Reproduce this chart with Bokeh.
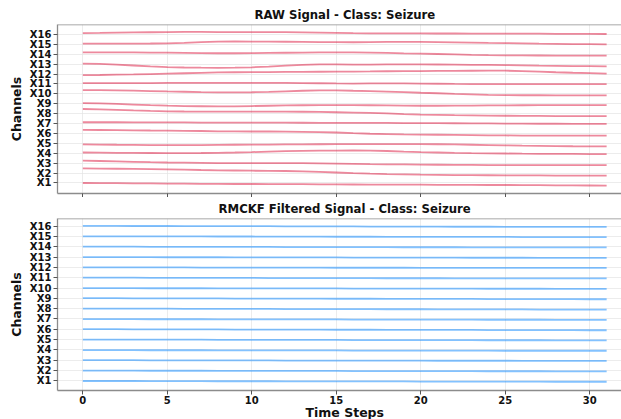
from bokeh.plotting import figure
from bokeh.layouts import column, row
from bokeh.models import FixedTicker, Span, Range1d, Title, Spacer
from bokeh.embed import file_html
from bokeh.resources import INLINE

time_steps = list(range(32))
x_ticks = [0, 5, 10, 15, 20, 25, 30]
channel_pos = list(range(1, 17))
channel_names = [f"X{i}" for i in channel_pos]

# RAW signals (already offset by channel position)
raw_X16 = [16.13,16.15,16.18,16.20,16.22,16.24,16.25,16.25,16.24,16.24,16.23,16.23,16.23,16.21,16.18,16.15,16.12,16.10,16.10,16.10,16.10,16.09,16.09,16.08,16.08,16.07,16.07,16.07,16.06,16.06,16.05,16.04]
raw_X15 = [15.06,15.06,15.06,15.07,15.08,15.10,15.15,15.22,15.28,15.29,15.28,15.27,15.26,15.25,15.23,15.22,15.21,15.22,15.24,15.25,15.25,15.23,15.20,15.17,15.14,15.12,15.09,15.06,15.04,15.02,15.01,15.00]
raw_X14 = [14.19,14.19,14.18,14.18,14.17,14.16,14.14,14.12,14.10,14.10,14.11,14.13,14.15,14.17,14.18,14.19,14.19,14.16,14.13,14.09,14.06,14.02,13.98,13.94,13.91,13.89,13.88,13.87,13.86,13.86,13.86,13.86]
raw_X13 = [13.05,13.02,12.95,12.86,12.77,12.70,12.66,12.64,12.63,12.64,12.68,12.75,12.84,12.92,12.98,12.98,12.95,12.95,12.97,12.98,12.97,12.96,12.95,12.93,12.92,12.90,12.87,12.84,12.82,12.80,12.79,12.78]
raw_X12 = [11.88,11.90,11.93,11.96,12.00,12.04,12.08,12.12,12.16,12.18,12.19,12.20,12.21,12.22,12.23,12.24,12.25,12.26,12.28,12.29,12.30,12.31,12.32,12.33,12.34,12.34,12.30,12.24,12.18,12.13,12.09,12.05]
raw_X11 = [11.08,11.08,11.08,11.09,11.09,11.10,11.10,11.11,11.11,11.11,11.11,11.10,11.10,11.09,11.07,11.05,11.04,11.05,11.06,11.05,11.04,11.02,11.00,10.99,10.98,10.98,10.98,10.98,10.98,10.98,10.98,10.98]
raw_X10 = [10.38,10.37,10.35,10.32,10.28,10.24,10.21,10.17,10.14,10.14,10.16,10.19,10.25,10.31,10.36,10.35,10.31,10.28,10.23,10.17,10.11,10.06,10.00,9.95,9.90,9.87,9.86,9.86,9.85,9.85,9.84,9.84]
raw_X9 = [9.07,9.03,8.98,8.92,8.86,8.81,8.77,8.75,8.73,8.74,8.77,8.80,8.83,8.85,8.86,8.87,8.87,8.85,8.83,8.81,8.80,8.80,8.81,8.82,8.83,8.84,8.85,8.86,8.86,8.87,8.87,8.87]
raw_X8 = [8.47,8.44,8.39,8.33,8.28,8.24,8.22,8.21,8.20,8.20,8.20,8.20,8.20,8.19,8.17,8.14,8.11,8.07,8.02,7.96,7.91,7.88,7.85,7.83,7.81,7.79,7.78,7.77,7.76,7.76,7.76,7.76]
raw_X7 = [7.13,7.13,7.13,7.12,7.12,7.11,7.11,7.10,7.10,7.10,7.09,7.09,7.09,7.08,7.07,7.07,7.06,7.06,7.06,7.05,7.05,7.04,7.03,7.02,7.01,7.00,6.99,6.98,6.98,6.97,6.97,6.96]
raw_X6 = [6.36,6.35,6.34,6.32,6.30,6.29,6.27,6.25,6.22,6.21,6.20,6.20,6.19,6.17,6.14,6.10,6.03,5.97,5.94,5.91,5.89,5.87,5.85,5.83,5.81,5.80,5.79,5.79,5.79,5.79,5.79,5.79]
raw_X5 = [4.89,4.88,4.86,4.85,4.83,4.82,4.82,4.83,4.85,4.86,4.87,4.88,4.89,4.90,4.91,4.92,4.92,4.92,4.92,4.92,4.92,4.91,4.89,4.86,4.83,4.80,4.77,4.75,4.73,4.71,4.70,4.69]
raw_X4 = [4.08,4.07,4.05,4.04,4.03,4.02,4.02,4.03,4.05,4.08,4.12,4.17,4.21,4.24,4.26,4.27,4.28,4.27,4.23,4.17,4.12,4.08,4.04,4.01,3.99,3.98,3.96,3.95,3.94,3.93,3.92,3.91]
raw_X3 = [3.25,3.22,3.18,3.14,3.10,3.07,3.05,3.03,3.01,3.01,3.01,3.01,3.01,3.00,2.98,2.96,2.94,2.91,2.89,2.87,2.85,2.84,2.83,2.82,2.81,2.81,2.81,2.81,2.81,2.81,2.81,2.81]
raw_X2 = [2.48,2.46,2.44,2.42,2.40,2.38,2.35,2.31,2.28,2.26,2.24,2.22,2.21,2.18,2.13,2.06,1.99,1.94,1.90,1.87,1.84,1.82,1.80,1.79,1.78,1.77,1.76,1.76,1.75,1.75,1.74,1.74]
raw_X1 = [1.00,0.99,0.98,0.97,0.96,0.94,0.93,0.92,0.91,0.90,0.90,0.89,0.89,0.88,0.87,0.86,0.85,0.84,0.84,0.83,0.83,0.82,0.81,0.81,0.80,0.80,0.79,0.78,0.77,0.76,0.75,0.74]

# RMCKF filtered signals (deviation from channel position)
filt_X16 = [0.03,0.03,0.03,0.02,0.02,0.02,0.01,0.01,0.01,0.00,0.00,0.00,-0.01,-0.01,-0.01,-0.02,-0.02,-0.03,-0.03,-0.03,-0.04,-0.04,-0.05,-0.05,-0.05,-0.06,-0.06,-0.06,-0.07,-0.07,-0.07,-0.07]
filt_X15 = [0.02,0.02,0.02,0.02,0.01,0.01,0.01,0.01,0.00,0.00,0.00,-0.01,-0.01,-0.01,-0.01,-0.02,-0.02,-0.02,-0.03,-0.03,-0.03,-0.03,-0.04,-0.04,-0.04,-0.04,-0.05,-0.05,-0.05,-0.05,-0.05,-0.05]
filt_X14 = [0.01,0.01,0.01,0.01,0.00,0.00,0.00,0.00,-0.01,-0.01,-0.01,-0.01,-0.02,-0.02,-0.02,-0.03,-0.03,-0.03,-0.03,-0.04,-0.04,-0.04,-0.04,-0.05,-0.05,-0.05,-0.05,-0.06,-0.06,-0.06,-0.06,-0.06]
filt_X13 = [0.00,0.00,0.00,0.00,0.00,-0.01,-0.01,-0.01,-0.01,-0.02,-0.02,-0.02,-0.02,-0.03,-0.03,-0.03,-0.04,-0.04,-0.04,-0.05,-0.05,-0.05,-0.05,-0.06,-0.06,-0.06,-0.06,-0.07,-0.07,-0.07,-0.07,-0.07]
filt_X12 = [0.01,0.01,0.01,0.00,0.00,0.00,0.00,-0.01,-0.01,-0.01,-0.01,-0.02,-0.02,-0.02,-0.02,-0.03,-0.03,-0.03,-0.03,-0.03,-0.04,-0.04,-0.04,-0.04,-0.04,-0.05,-0.05,-0.05,-0.05,-0.05,-0.05,-0.05]
filt_X11 = [0.00,0.00,0.00,0.00,-0.01,-0.01,-0.01,-0.01,-0.02,-0.02,-0.02,-0.03,-0.03,-0.03,-0.03,-0.04,-0.04,-0.04,-0.05,-0.05,-0.05,-0.05,-0.06,-0.06,-0.06,-0.06,-0.07,-0.07,-0.07,-0.07,-0.07,-0.07]
filt_X10 = [-0.01,-0.01,-0.01,-0.01,-0.02,-0.02,-0.02,-0.02,-0.03,-0.03,-0.03,-0.03,-0.04,-0.04,-0.04,-0.04,-0.05,-0.05,-0.05,-0.05,-0.06,-0.06,-0.06,-0.06,-0.07,-0.07,-0.07,-0.07,-0.08,-0.08,-0.08,-0.08]
filt_X9 = [0.01,0.01,0.01,0.00,0.00,0.00,-0.01,-0.01,-0.01,-0.02,-0.02,-0.02,-0.03,-0.03,-0.03,-0.04,-0.04,-0.04,-0.05,-0.05,-0.05,-0.06,-0.06,-0.06,-0.07,-0.07,-0.07,-0.08,-0.08,-0.08,-0.09,-0.09]
filt_X8 = [0.00,0.00,0.00,-0.01,-0.01,-0.01,-0.02,-0.02,-0.02,-0.03,-0.03,-0.03,-0.04,-0.04,-0.04,-0.05,-0.05,-0.05,-0.06,-0.06,-0.06,-0.07,-0.07,-0.07,-0.08,-0.08,-0.08,-0.09,-0.09,-0.10,-0.10,-0.10]
filt_X7 = [-0.02,-0.02,-0.02,-0.02,-0.03,-0.03,-0.03,-0.03,-0.04,-0.04,-0.04,-0.04,-0.05,-0.05,-0.05,-0.05,-0.06,-0.06,-0.06,-0.06,-0.07,-0.07,-0.07,-0.07,-0.08,-0.08,-0.08,-0.08,-0.09,-0.09,-0.09,-0.09]
filt_X6 = [0.00,0.00,0.00,-0.01,-0.01,-0.01,-0.02,-0.02,-0.02,-0.03,-0.03,-0.03,-0.04,-0.04,-0.04,-0.05,-0.05,-0.05,-0.06,-0.06,-0.06,-0.07,-0.07,-0.07,-0.08,-0.08,-0.08,-0.09,-0.09,-0.09,-0.10,-0.10]
filt_X5 = [-0.01,-0.01,-0.01,-0.01,-0.02,-0.02,-0.02,-0.02,-0.03,-0.03,-0.03,-0.03,-0.04,-0.04,-0.04,-0.04,-0.05,-0.05,-0.05,-0.05,-0.06,-0.06,-0.06,-0.06,-0.07,-0.07,-0.07,-0.07,-0.08,-0.08,-0.08,-0.08]
filt_X4 = [-0.03,-0.03,-0.03,-0.03,-0.04,-0.04,-0.04,-0.04,-0.05,-0.05,-0.05,-0.05,-0.06,-0.06,-0.06,-0.06,-0.07,-0.07,-0.07,-0.07,-0.08,-0.08,-0.08,-0.08,-0.08,-0.09,-0.09,-0.09,-0.09,-0.09,-0.09,-0.09]
filt_X3 = [-0.01,-0.01,-0.01,-0.01,-0.02,-0.02,-0.02,-0.02,-0.03,-0.03,-0.03,-0.03,-0.04,-0.04,-0.04,-0.04,-0.04,-0.05,-0.05,-0.05,-0.05,-0.06,-0.06,-0.06,-0.06,-0.06,-0.07,-0.07,-0.07,-0.07,-0.07,-0.07]
filt_X2 = [-0.02,-0.02,-0.02,-0.02,-0.03,-0.03,-0.03,-0.03,-0.04,-0.04,-0.04,-0.04,-0.05,-0.05,-0.05,-0.05,-0.06,-0.06,-0.06,-0.06,-0.07,-0.07,-0.07,-0.07,-0.08,-0.08,-0.08,-0.08,-0.09,-0.09,-0.09,-0.09]
filt_X1 = [-0.03,-0.03,-0.03,-0.03,-0.04,-0.04,-0.04,-0.04,-0.05,-0.05,-0.05,-0.05,-0.06,-0.06,-0.06,-0.06,-0.07,-0.07,-0.07,-0.07,-0.08,-0.08,-0.08,-0.08,-0.09,-0.09,-0.09,-0.09,-0.10,-0.10,-0.10,-0.10]

raw_signals = [raw_X1, raw_X2, raw_X3, raw_X4, raw_X5, raw_X6, raw_X7, raw_X8,
               raw_X9, raw_X10, raw_X11, raw_X12, raw_X13, raw_X14, raw_X15, raw_X16]
filt_signals = [filt_X1, filt_X2, filt_X3, filt_X4, filt_X5, filt_X6, filt_X7, filt_X8,
                filt_X9, filt_X10, filt_X11, filt_X12, filt_X13, filt_X14, filt_X15, filt_X16]

FONT = "DejaVu Sans"
SPINE = "#8c8c8c"
FIG_W = 616


def make_fig(height, y_start, y_end, title_text, title_offset, title_standoff, show_x_labels):
    p = figure(width=FIG_W, height=height, output_backend="svg", toolbar_location=None,
               x_range=Range1d(-1.5, 31.88), y_range=Range1d(y_start, y_end),
               min_border_left=0, min_border_right=0, min_border_top=0,
               min_border_bottom=0)
    p.title = Title(text=title_text, align="left", offset=title_offset,
                    text_font=FONT, text_font_style="bold", text_font_size="11.7px",
                    text_color="#111111", standoff=title_standoff)
    p.outline_line_color = None
    p.xgrid.ticker = FixedTicker(ticks=x_ticks)
    p.ygrid.ticker = FixedTicker(ticks=channel_pos)
    p.grid.grid_line_color = "#e4e4e4"
    p.grid.grid_line_alpha = 0.7
    p.xaxis.ticker = FixedTicker(ticks=x_ticks)
    p.yaxis.ticker = FixedTicker(ticks=channel_pos)
    p.yaxis.major_label_overrides = {i: n for i, n in zip(channel_pos, channel_names)}
    for ax in (p.xaxis[0], p.yaxis[0]):
        ax.axis_line_color = SPINE
        ax.axis_line_width = 1.3
        ax.major_tick_line_color = "#555555"
        ax.major_tick_in = 0
        ax.major_tick_out = 4
        ax.minor_tick_line_color = None
        ax.major_label_text_font = FONT
        ax.major_label_text_font_style = "bold"
        ax.major_label_text_font_size = "10px"
        ax.major_label_text_color = "#111111"
        ax.major_label_standoff = 2
        ax.axis_label_text_font = FONT
        ax.axis_label_text_font_style = "bold"
        ax.axis_label_text_font_size = "12.5px"
        ax.axis_label_text_color = "#111111"
    p.yaxis.axis_label = "Channels"
    p.yaxis.axis_label_standoff = 3
    if show_x_labels:
        p.xaxis.major_label_standoff = 1
        p.add_layout(Title(text="Time Steps", align="left", offset=248, vertical_align="top",
                           text_font=FONT, text_font_style="bold", text_font_size="12.5px",
                           text_color="#111111", standoff=-4), "below")
    else:
        p.xaxis.major_label_text_font_size = "1px"
        p.xaxis.major_label_text_color = None
        p.xaxis.major_label_standoff = 0
    p.add_layout(Span(location=y_end, dimension="width", line_color=SPINE, line_width=1.3))
    return p


p1 = make_fig(194, -0.06, 17.0, "RAW Signal - Class: Seizure", 197, 5, False)
for sig in raw_signals:
    p1.line(time_steps, sig, line_color="crimson", line_alpha=0.5, line_width=1.8)

p2 = make_fig(222, 0.05, 16.75, "RMCKF Filtered Signal - Class: Seizure", 161, 5, True)
for pos, sig in zip(channel_pos, filt_signals):
    p2.line(time_steps, [pos + d for d in sig], line_color="dodgerblue", line_alpha=0.55, line_width=1.8)

layout = row(Spacer(width=5, height=419),
             column(Spacer(width=FIG_W, height=3), p1, p2, spacing=0),
             spacing=0)
open("out.html", "w").write(file_html(layout, INLINE))
